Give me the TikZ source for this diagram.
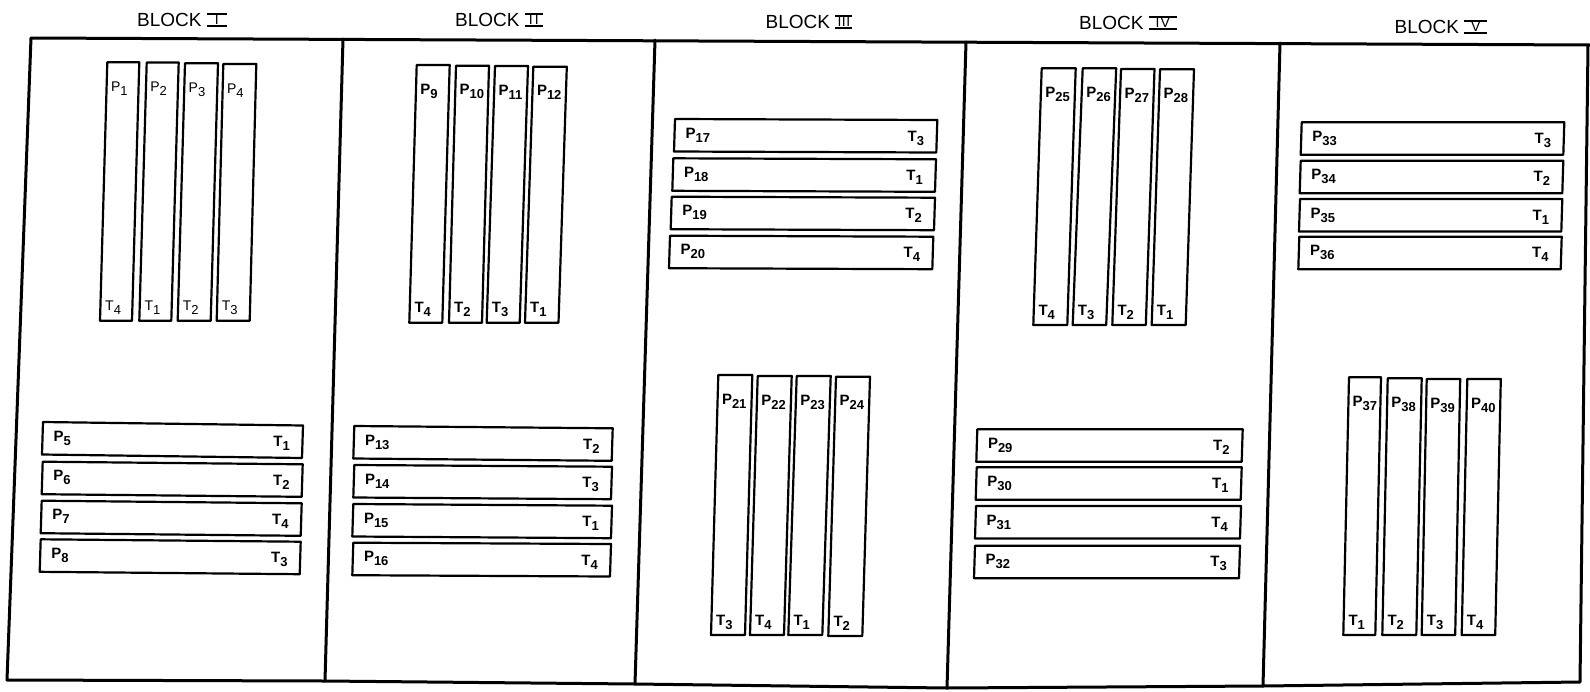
\documentclass[tikz,border=0pt]{standalone}
\usepackage{fontspec}
\setmainfont{Liberation Sans}
\tikzset{
 frame/.style={line width=3pt, line cap=round, line join=round},
 bx/.style={line width=2.2pt, line join=round},
 lab/.style={inner sep=0pt, font=\fontsize{15}{15}\selectfont\bfseries},
 ttl/.style={inner sep=0pt, font=\fontsize{19}{19}\selectfont},
}
\newcommand\lsub[1]{\raisebox{-4pt}{\fontsize{13}{13}\selectfont #1}}
\newcommand\blocknum[2]{\vbox{\hrule height1.1pt\kern0.4pt\hbox to #1{\hss\fontsize{14}{14}\selectfont #2\hss}\kern0.4pt\hrule height1.6pt}}
% name, TLx, TLy, BLx, BLy, width, P, T
\newcommand\tallbox[8]{%
  \draw[bx] (#2,#3) -- (#2+#6,#3) -- (#4+#6,#5) -- (#4,#5) -- cycle;
  \node[lab,anchor=base west] (#1P) at (#2+3.5,#3+29) {P\lsub{#7}};
  \node[lab,anchor=base west] (#1T) at (#4+5,#5-10) {T\lsub{#8}};
}
% name, TLx, TLy, width, dy, P, T
\newcommand\flatbox[7]{%
  \draw[bx] (#2,#3) -- (#2+#4,#3+#5) -- (#2+#4-1,#3+#5+32.5) -- (#2-1,#3+32.5) -- cycle;
  \node[lab,anchor=base west] (#1P) at (#2+10.5,#3+19) {P\lsub{#6}};
  \node[lab,anchor=base east] (#1T) at (#2+#4-13,#3+#5+21) {T\lsub{#7}};
}
\begin{document}
\begin{tikzpicture}[x=1pt,y=-1pt]
\useasboundingbox (0,0) rectangle (1590,691);
% frame
\coordinate (tl) at (31,38);
\coordinate (tr) at (1590,45);
\coordinate (rt) at (1588,45);
\coordinate (bl) at (7,680);
\coordinate (br) at (1580,682);
\coordinate (d1t) at (343,39);   \coordinate (d1b) at (325,681);
\coordinate (d2t) at (655,40);   \coordinate (d2b) at (635,684);
\coordinate (d3t) at (966,42);   \coordinate (d3b) at (947,688);
\coordinate (d4t) at (1280,43);  \coordinate (d4b) at (1263,686);
\draw[frame] (tr) -- (tl) -- (bl) -- (d1b) -- (d2b) -- (d3b) -- (d4b) -- (br) -- (rt);
\draw[frame] (d1t) -- (d1b);
\draw[frame] (d2t) -- (d2b);
\draw[frame] (d3t) -- (d3b);
\draw[frame] (d4t) -- (d4b);
% titles
\node[ttl] (t1) at (182,20) {BLOCK \blocknum{20pt}{I}};
\node[ttl] (t2) at (499,20) {BLOCK \blocknum{18pt}{I\kern2pt I}};
\node[ttl] (t3) at (809,22) {BLOCK \blocknum{17pt}{I\kern0.5pt I\kern0.5pt I}};
\node[ttl] (t4) at (1128,23) {BLOCK \blocknum{28pt}{I\kern1pt V}};
\node[ttl] (t5) at (1441,27) {BLOCK \blocknum{23pt}{V}};
% Block I
\begin{scope}
\tikzset{lab/.style={inner sep=0pt, font=\fontsize{14}{14}\selectfont}}
\tallbox{b1a}{107.3}{62.3}{100}{320.7}{32}{1}{4}
\tallbox{b1b}{146.7}{62.5}{139.3}{320.7}{32}{2}{1}
\tallbox{b1c}{185}{63.3}{177.7}{320.7}{33}{3}{2}
\tallbox{b1d}{223.3}{64}{216.7}{320.7}{33}{4}{3}
\end{scope}
\flatbox{b1e}{43}{422}{260}{3.5}{5}{1}
\flatbox{b1f}{42.7}{461.7}{260}{2.6}{6}{2}
\flatbox{b1g}{41.7}{500.7}{260}{2.6}{7}{4}
\flatbox{b1h}{40.7}{539.3}{260}{2.4}{8}{3}
% Block II
\tallbox{b2a}{416.7}{65}{409.3}{322.7}{33}{9}{4}
\tallbox{b2b}{456}{65.7}{449}{322.7}{33}{10}{2}
\tallbox{b2c}{495}{66}{486.7}{322.7}{33}{11}{3}
\tallbox{b2d}{533.3}{66.7}{525}{322.7}{33.5}{12}{1}
\flatbox{b2e}{354.3}{426}{258.4}{2.3}{13}{2}
\flatbox{b2f}{354.3}{465}{257.7}{1.7}{14}{3}
\flatbox{b2g}{353.3}{504}{258.7}{1.7}{15}{1}
\flatbox{b2h}{353.3}{542.7}{257.7}{1.3}{16}{4}
% Block III
\flatbox{b3a}{675}{119}{262.3}{1}{17}{3}
\flatbox{b3b}{673.3}{158.3}{262.7}{1}{18}{1}
\flatbox{b3c}{671.7}{196.7}{263.3}{1}{19}{2}
\flatbox{b3d}{670}{235.7}{263.3}{1}{20}{4}
\tallbox{b3e}{718.3}{375}{711}{635}{34}{21}{3}
\tallbox{b3f}{757.7}{376}{750}{635}{34}{22}{4}
\tallbox{b3g}{796.7}{376}{788.3}{635}{34}{23}{1}
\tallbox{b3h}{836}{376.7}{828.3}{636}{34}{24}{2}
% Block IV
\tallbox{b4a}{1041.7}{68.3}{1033.3}{325}{34}{25}{4}
\tallbox{b4b}{1082.7}{68.3}{1072.7}{325}{33.5}{26}{3}
\tallbox{b4c}{1121}{69}{1112.3}{325}{33.5}{27}{2}
\tallbox{b4d}{1160}{69.3}{1151.7}{325}{34}{28}{1}
\flatbox{b4e}{977.3}{429.3}{265.4}{0}{29}{2}
\flatbox{b4f}{976.7}{467.3}{265}{0}{30}{1}
\flatbox{b4g}{976}{506}{265}{0}{31}{4}
\flatbox{b4h}{975}{545.7}{265}{0}{32}{3}
% Block V
\flatbox{b5a}{1301.7}{122.3}{262.6}{0}{33}{3}
\flatbox{b5b}{1300.7}{160.7}{262.6}{0}{34}{2}
\flatbox{b5c}{1300}{199}{262.3}{0}{35}{1}
\flatbox{b5d}{1299.3}{236.7}{262.4}{0}{36}{4}
\tallbox{b5e}{1349}{377.3}{1343.3}{635}{32}{37}{1}
\tallbox{b5f}{1387.7}{378.3}{1382.3}{635}{34}{38}{2}
\tallbox{b5g}{1426.7}{379}{1421.7}{635}{33.5}{39}{3}
\tallbox{b5h}{1467.3}{379}{1461.7}{635}{33.5}{40}{4}
\end{tikzpicture}
\end{document}
